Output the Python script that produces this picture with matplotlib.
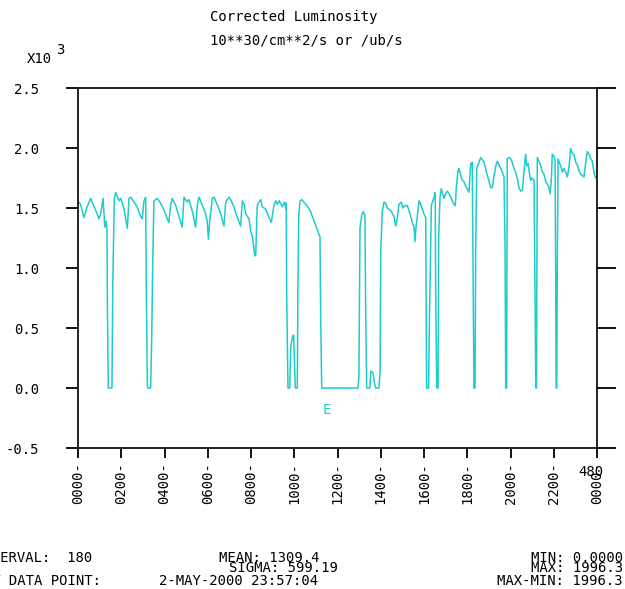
import matplotlib.pyplot as plt

# time of day in hours, luminosity in 10**30/cm**2/s
hours = [
    0.00, 0.12, 0.28, 0.42, 0.59, 0.65, 0.82, 0.97, 1.05, 1.16, 1.24, 1.30, 1.34,
    1.36, 1.40, 1.57, 1.61, 1.68, 1.74, 1.90, 1.98, 2.13, 2.28, 2.36, 2.44, 2.59,
    2.73, 2.90, 2.97, 3.05, 3.13,
    3.16, 3.21, 3.36, 3.41, 3.45, 3.51, 3.67, 3.82, 3.98,
    4.13, 4.20, 4.29, 4.36, 4.52, 4.67, 4.82, 4.90, 5.05, 5.13, 5.29, 5.44, 5.52,
    5.60, 5.75, 5.91, 5.98, 6.03, 6.10, 6.21, 6.29, 6.41, 6.57, 6.75, 6.83, 6.98,
    7.06, 7.21, 7.37, 7.52, 7.60, 7.68, 7.76, 7.91, 7.99, 8.06, 8.14, 8.17, 8.22,
    8.25, 8.29, 8.37, 8.45, 8.52, 8.68, 8.83, 8.94, 9.06, 9.14, 9.22, 9.30, 9.45,
    9.56, 9.61, 9.63,
    9.65, 9.71, 9.79, 9.84, 9.92, 9.97, 10.02, 10.05, 10.14, 10.17, 10.21, 10.27,
    10.35, 10.58, 10.73, 10.88, 11.04, 11.19, 11.22, 11.27,
    12.95, 12.99, 13.04, 13.12, 13.19, 13.27, 13.30, 13.35, 13.50, 13.54, 13.63,
    13.72, 13.77, 13.92, 13.97, 14.00, 14.07, 14.15, 14.23, 14.30, 14.46, 14.61,
    14.69, 14.77, 14.84, 14.95, 15.03, 15.11, 15.23, 15.39, 15.46, 15.54, 15.58,
    15.63, 15.69, 15.77, 15.85, 15.92, 16.00, 16.08,
    16.12, 16.21, 16.25, 16.34, 16.46, 16.52, 16.54, 16.59, 16.65, 16.68, 16.74,
    16.80, 16.88, 16.93, 17.00, 17.08, 17.16, 17.24, 17.31, 17.39, 17.45, 17.49,
    17.57, 17.62, 17.70, 17.77, 17.85, 17.93, 18.00, 18.08, 18.16, 18.23,
    18.27, 18.31, 18.36, 18.39, 18.44, 18.54, 18.62, 18.70, 18.78, 18.85, 18.93,
    19.01, 19.08, 19.16, 19.24, 19.32, 19.39, 19.47, 19.55, 19.62, 19.70,
    19.75, 19.78, 19.82, 19.85, 19.93, 20.01, 20.08, 20.16, 20.24, 20.32, 20.39,
    20.47, 20.55, 20.62, 20.70, 20.75, 20.82, 20.86, 20.93, 21.01, 21.09,
    21.13, 21.17, 21.20, 21.24, 21.32, 21.40, 21.47, 21.55, 21.63, 21.70, 21.78,
    21.83, 21.89, 21.93, 22.01, 22.06,
    22.09, 22.11, 22.14, 22.16, 22.20, 22.32, 22.40, 22.47, 22.55, 22.63, 22.71,
    22.78, 22.86, 22.94, 23.02, 23.09, 23.17, 23.25, 23.32, 23.40, 23.48, 23.55,
    23.63, 23.71, 23.78, 23.86, 23.91, 23.95,
]
lumi = [
    1560, 1530, 1420, 1510, 1580, 1550, 1480, 1410, 1450, 1580, 1340, 1390, 1310,
    690, 0, 0, 880, 1580, 1630, 1560, 1580, 1490, 1330, 1580, 1590, 1550,
    1510, 1430, 1410, 1560, 1590,
    800, 0, 0, 430, 970, 1560, 1580, 1540, 1480,
    1410, 1380, 1530, 1580, 1520, 1430, 1340, 1590, 1550, 1570, 1470, 1340, 1530,
    1590, 1520, 1450, 1380, 1240, 1410, 1580, 1590, 1540, 1470, 1350, 1550, 1590,
    1570, 1510, 1420, 1350, 1560, 1530, 1450, 1410, 1300, 1270, 1160, 1100, 1110,
    1300, 1520, 1550, 1570, 1510, 1490, 1420, 1380, 1520, 1560, 1530, 1560, 1510,
    1550, 1490, 1540,
    770, 0, 0, 350, 430, 440, 160, 0, 0, 840, 1440, 1560,
    1570, 1520, 1480, 1410, 1330, 1260, 620, 0,
    0, 100, 1330, 1440, 1470, 1440, 710, 0, 0, 140, 130,
    30, 0, 0, 150, 1130, 1470, 1550, 1540, 1500, 1480, 1430,
    1350, 1420, 1530, 1550, 1500, 1520, 1520, 1430, 1380, 1340, 1220,
    1340, 1430, 1560, 1530, 1490, 1450, 1420,
    0, 0, 550, 1520, 1590, 1630, 800, 0, 0, 1260, 1590,
    1660, 1610, 1580, 1620, 1640, 1620, 1590, 1560, 1530, 1520, 1660,
    1810, 1830, 1770, 1730, 1720, 1680, 1660, 1630, 1870, 1880,
    930, 0, 0, 1160, 1830, 1880, 1920, 1900, 1880, 1830, 1770,
    1720, 1670, 1670, 1770, 1850, 1890, 1860, 1830, 1800, 1760,
    1130, 0, 0, 1910, 1920, 1910, 1880, 1830, 1800, 1740, 1670,
    1640, 1650, 1800, 1950, 1850, 1870, 1810, 1730, 1750, 1730,
    850, 0, 0, 1920, 1890, 1850, 1800, 1780, 1720, 1700, 1670,
    1620, 1730, 1950, 1930, 1900,
    910, 0, 0, 910, 1910, 1850, 1800, 1830, 1800, 1760, 1850,
    1996, 1960, 1940, 1880, 1860, 1810, 1780, 1770, 1760, 1880, 1970,
    1950, 1910, 1890, 1800, 1760, 1750,
]

xticks = list(range(0, 25, 2))
xlabels = ["%02d00-" % (h % 24) for h in xticks]
yticks = [-0.5, 0.0, 0.5, 1.0, 1.5, 2.0, 2.5]
ylabels = ["%.1f" % v for v in yticks]

mono = "DejaVu Sans Mono"
fs = 10
cyan = "#1ecccc"
W, H = 625, 589

fig = plt.figure(figsize=(W / 100, H / 100), dpi=100)
ax = fig.add_axes([78 / W, 1 - 448 / H, 519 / W, 360 / H])
ax.plot(hours, [v / 1000 for v in lumi], color=cyan, lw=1.1)
ax.set_xlim(0, 24)
ax.set_ylim(-0.5, 2.5)

ax.set_xticks(xticks)
ax.set_xticklabels(xlabels, rotation=90, family=mono, fontsize=fs)
ax.set_yticks(yticks)
ax.set_yticklabels(ylabels, family=mono, fontsize=fs)
ax.tick_params(axis="x", direction="out", length=7, width=1.3, pad=3)
ax.tick_params(axis="y", direction="out", length=9, width=1.3, pad=19)
for s in ax.spines.values():
    s.set_linewidth(1.4)
    s.set_color("#222222")

# right-hand ticks are longer and unlabeled
ax2 = ax.twinx()
ax2.set_ylim(-0.5, 2.5)
ax2.set_yticks(yticks)
ax2.set_yticklabels([])
ax2.tick_params(axis="y", direction="out", length=14, width=1.3)
for s in ax2.spines.values():
    s.set_visible(False)

ax.text(11.52, -0.18, "E", color=cyan, family=mono, fontsize=fs, ha="center", va="center")

def ftext(x, y, s, **kw):
    fig.text(x / W, 1 - y / H, s, family=mono, fontsize=fs, va="center", **kw)

ftext(210, 17, "Corrected Luminosity")
ftext(210, 41, "10**30/cm**2/s or /ub/s")
ftext(27, 59, "X10")
ftext(56, 50, "3")
ftext(591, 472, "480", ha="center")

ftext(-25, 558, "INTERVAL:  180")
ftext(219, 558, "MEAN: 1309.4")
ftext(229, 568, "SIGMA: 599.19")
ftext(-33, 581, "LAST DATA POINT:")
ftext(159, 581, "2-MAY-2000 23:57:04")
ftext(623, 558, "MIN: 0.0000", ha="right")
ftext(623, 568, "MAX: 1996.3", ha="right")
ftext(623, 581, "MAX-MIN: 1996.3", ha="right")

fig.savefig("out.png", dpi=100)
